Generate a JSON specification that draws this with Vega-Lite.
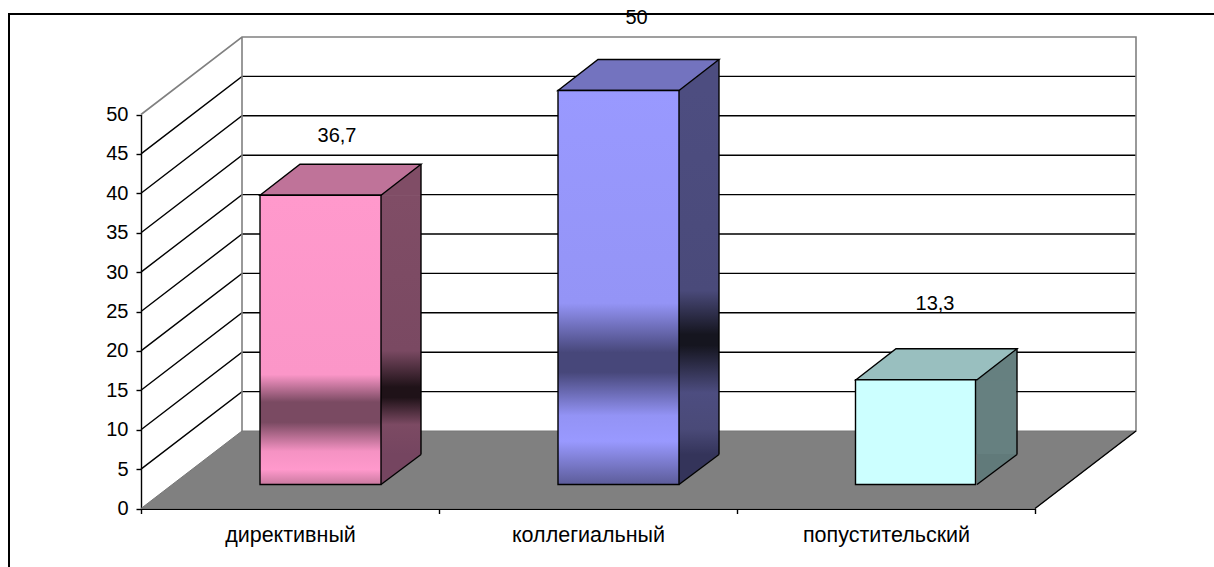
{
  "$schema": "https://vega.github.io/schema/vega-lite/v6.json",
  "autosize": {"type": "none"},
  "padding": 0,
  "width": 1214,
  "height": 567,
  "background": "white",
  "resolve": {"scale": {"fill": "independent"}},
  "config": {
    "view": {"stroke": null},
    "font": "Liberation Sans",
    "locale": {"number": {"decimal": ",", "thousands": " ", "grouping": [3], "currency": ["", ""]}},
    "axis": {
      "grid": false,
      "zindex": 1,
      "domainColor": "black",
      "tickColor": "black",
      "tickWidth": 1.4,
      "tickSize": 5,
      "labelFontSize": 20,
      "labelColor": "black",
      "labelFont": "Liberation Sans"
    },
    "axisX": {"offset": -58.5, "tickBand": "extent", "labelAngle": 0, "domainWidth": 2, "labelPadding": 11, "labelFontSize": 21.5},
    "axisY": {"offset": -141, "domainWidth": 1.4, "labelPadding": 8}
  },
  "datasets": {
    "styles": [
      {"style": "директивный", "value": 36.7},
      {"style": "коллегиальный", "value": 50},
      {"style": "попустительский", "value": 13.3}
    ],
    "ticks": [
      {"tick": 0}, {"tick": 5}, {"tick": 10}, {"tick": 15}, {"tick": 20}, {"tick": 25},
      {"tick": 30}, {"tick": 35}, {"tick": 40}, {"tick": 45}, {"tick": 50}
    ]
  },
  "layer": [
    {
      "data": {"name": "ticks"},
      "transform": [{"filter": "datum.tick > 0 && datum.tick < 50"}],
      "mark": {"type": "point", "shape": "M-149,0L-48,-77.5L846,-77.5", "size": 4, "filled": false, "stroke": "black", "strokeWidth": 1.4, "opacity": 1},
      "encoding": {
        "x": {"datum": "директивный", "type": "nominal", "title": null},
        "y": {
          "field": "tick",
          "type": "quantitative",
          "title": null,
          "scale": {"domain": [0, 50], "range": [508.5, 114.5], "nice": false},
          "axis": {"values": [0, 5, 10, 15, 20, 25, 30, 35, 40, 45, 50]}
        }
      }
    },
    {
      "data": {"name": "ticks"},
      "transform": [{"filter": "datum.tick === 50"}],
      "mark": {"type": "point", "shape": "M-149,0L-48,-77.5L846,-77.5L846,317M-48,-77.5L-48,317", "size": 4, "filled": false, "stroke": "#808080", "strokeWidth": 1.6, "opacity": 1},
      "encoding": {
        "x": {"datum": "директивный", "type": "nominal", "title": null},
        "y": {"field": "tick", "type": "quantitative", "title": null}
      }
    },
    {
      "data": {"name": "ticks"},
      "transform": [{"filter": "datum.tick === 50"}],
      "mark": {"type": "point", "shape": "M-281,452.5L-281,-100.5L924,-100.5", "size": 4, "filled": false, "stroke": "black", "strokeWidth": 2, "opacity": 1},
      "encoding": {
        "x": {"datum": "директивный", "type": "nominal", "title": null},
        "y": {"field": "tick", "type": "quantitative", "title": null}
      }
    },
    {
      "data": {"name": "ticks"},
      "transform": [{"filter": "datum.tick === 0"}],
      "mark": {"type": "point", "shape": "M-149,0L-48,-77.5L846,-77.5L745,0Z", "size": 4, "filled": true, "fill": "#808080", "stroke": "#777777", "strokeWidth": 1, "opacity": 1},
      "encoding": {
        "x": {"datum": "директивный", "type": "nominal", "title": null},
        "y": {"field": "tick", "type": "quantitative", "title": null}
      }
    },
    {
      "data": {"name": "ticks"},
      "transform": [{"filter": "datum.tick === 0"}],
      "mark": {"type": "point", "shape": "M745,0L846,-77.5", "size": 4, "filled": false, "stroke": "black", "strokeWidth": 1.4, "opacity": 1},
      "encoding": {
        "x": {"datum": "директивный", "type": "nominal", "title": null},
        "y": {"field": "tick", "type": "quantitative", "title": null}
      }
    },
    {
      "data": {"name": "styles"},
      "transform": [{"filter": "datum.style === 'директивный'"}],
      "mark": {
        "type": "bar", "width": 44, "xOffset": 109, "yOffset": -24, "y2Offset": -54,
        "fill": {"gradient": "linear", "x1": 0, "y1": 0, "x2": 0, "y2": 1, "stops": [
          {"offset": 0, "color": "#804d66"}, {"offset": 0.6, "color": "#7a4962"},
          {"offset": 0.74, "color": "#1f1218"}, {"offset": 0.78, "color": "#1f1218"}, {"offset": 0.885, "color": "#7c4a63"},
          {"offset": 1, "color": "#754560"}
        ]}
      },
      "encoding": {
        "x": {
          "field": "style",
          "type": "nominal",
          "title": null,
          "scale": {"domain": ["директивный", "коллегиальный", "попустительский"], "range": [141, 1035], "paddingInner": 0, "paddingOuter": 0}
        },
        "y": {"field": "value", "type": "quantitative", "title": null},
        "y2": {"datum": 0}
      }
    },
    {
      "data": {"name": "styles"},
      "transform": [{"filter": "datum.style === 'коллегиальный'"}],
      "mark": {
        "type": "bar", "width": 44, "xOffset": 109, "yOffset": -24, "y2Offset": -54,
        "fill": {"gradient": "linear", "x1": 0, "y1": 0, "x2": 0, "y2": 1, "stops": [
          {"offset": 0, "color": "#4d4d80"}, {"offset": 0.55, "color": "#4a4a7a"},
          {"offset": 0.67, "color": "#15151f"}, {"offset": 0.7, "color": "#15151f"}, {"offset": 0.83, "color": "#4d4d80"},
          {"offset": 0.93, "color": "#4a4a78"}, {"offset": 1, "color": "#34345a"}
        ]}
      },
      "encoding": {
        "x": {"field": "style", "type": "nominal", "title": null},
        "y": {"field": "value", "type": "quantitative", "title": null},
        "y2": {"datum": 0}
      }
    },
    {
      "data": {"name": "styles"},
      "transform": [{"filter": "datum.style === 'попустительский'"}],
      "mark": {"type": "bar", "width": 44, "xOffset": 108.5, "yOffset": -24, "y2Offset": -54, "fill": "#668080"},
      "encoding": {
        "x": {"field": "style", "type": "nominal", "title": null},
        "y": {"field": "value", "type": "quantitative", "title": null},
        "y2": {"datum": 0}
      }
    },
    {
      "data": {"name": "styles"},
      "mark": {"type": "point", "shape": "M60.5,0.5L100.5,-31L100.5,0.5Z", "size": 4, "filled": true, "xOffset": 30.5, "yOffset": -24, "opacity": 1},
      "encoding": {
        "x": {"field": "style", "type": "nominal", "title": null},
        "y": {"field": "value", "type": "quantitative", "title": null},
        "fill": {"field": "style", "type": "nominal", "legend": null, "scale": {"domain": ["директивный", "коллегиальный", "попустительский"], "range": ["#804d66", "#4d4d80", "#668080"]}}
      }
    },
    {
      "data": {"name": "styles"},
      "mark": {"type": "point", "shape": "M60.5,0L60.5,-30.5L100.5,-30.5Z", "size": 4, "filled": true, "xOffset": 30.5, "yOffset": -24, "opacity": 1},
      "encoding": {
        "x": {"field": "style", "type": "nominal", "title": null},
        "y": {"datum": 0, "type": "quantitative", "title": null},
        "fill": {"field": "style", "type": "nominal", "legend": null, "scale": {"domain": ["директивный", "коллегиальный", "попустительский"], "range": ["#754560", "#34345a", "#617a7a"]}}
      }
    },
    {
      "data": {"name": "styles"},
      "mark": {"type": "rule", "xOffset": 131, "yOffset": -55, "y2Offset": -54, "stroke": "black", "strokeWidth": 1.4},
      "encoding": {
        "x": {"field": "style", "type": "nominal", "title": null},
        "y": {"field": "value", "type": "quantitative", "title": null},
        "y2": {"datum": 0}
      }
    },
    {
      "data": {"name": "styles"},
      "mark": {"type": "point", "shape": "M60.5,0L100.5,-30", "size": 4, "filled": false, "stroke": "black", "strokeWidth": 1.4, "xOffset": 30.5, "yOffset": -24, "opacity": 1},
      "encoding": {
        "x": {"field": "style", "type": "nominal", "title": null},
        "y": {"datum": 0, "type": "quantitative", "title": null}
      }
    },
    {
      "data": {"name": "styles"},
      "mark": {"type": "point", "shape": "M-60.5,0L60.5,0L100.5,-31L-20.5,-31Z", "size": 4, "filled": true, "stroke": "black", "strokeWidth": 1.4, "xOffset": 30.5, "yOffset": -24, "opacity": 1},
      "encoding": {
        "x": {"field": "style", "type": "nominal", "title": null},
        "y": {"field": "value", "type": "quantitative", "title": null},
        "fill": {"field": "style", "type": "nominal", "legend": null, "scale": {"domain": ["директивный", "коллегиальный", "попустительский"], "range": ["#bf7399", "#7373bf", "#99bfbf"]}}
      }
    },
    {
      "data": {"name": "styles"},
      "transform": [{"filter": "datum.style === 'директивный'"}],
      "mark": {
        "type": "bar", "width": 121, "xOffset": 30.5, "yOffset": -24, "y2Offset": -24, "stroke": "black", "strokeWidth": 1.4,
        "fill": {"gradient": "linear", "x1": 0, "y1": 0, "x2": 0, "y2": 1, "stops": [
          {"offset": 0, "color": "#ff99cc"}, {"offset": 0.62, "color": "#fb96c8"},
          {"offset": 0.715, "color": "#7a4a62"}, {"offset": 0.785, "color": "#7a4a62"}, {"offset": 0.885, "color": "#f592c3"},
          {"offset": 0.948, "color": "#ff99cc"}, {"offset": 1, "color": "#c9799f"}
        ]}
      },
      "encoding": {
        "x": {"field": "style", "type": "nominal", "title": null},
        "y": {"field": "value", "type": "quantitative", "title": null},
        "y2": {"datum": 0}
      }
    },
    {
      "data": {"name": "styles"},
      "transform": [{"filter": "datum.style === 'коллегиальный'"}],
      "mark": {
        "type": "bar", "width": 121, "xOffset": 30.5, "yOffset": -24, "y2Offset": -24, "stroke": "black", "strokeWidth": 1.4,
        "fill": {"gradient": "linear", "x1": 0, "y1": 0, "x2": 0, "y2": 1, "stops": [
          {"offset": 0, "color": "#9999ff"}, {"offset": 0.54, "color": "#9494f6"},
          {"offset": 0.665, "color": "#47477a"}, {"offset": 0.715, "color": "#47477a"}, {"offset": 0.825, "color": "#9393f5"},
          {"offset": 0.89, "color": "#9999ff"}, {"offset": 1, "color": "#5c5c99"}
        ]}
      },
      "encoding": {
        "x": {"field": "style", "type": "nominal", "title": null},
        "y": {"field": "value", "type": "quantitative", "title": null},
        "y2": {"datum": 0}
      }
    },
    {
      "data": {"name": "styles"},
      "transform": [{"filter": "datum.style === 'попустительский'"}],
      "mark": {"type": "bar", "width": 120, "xOffset": 29.5, "yOffset": -24, "y2Offset": -24, "stroke": "black", "strokeWidth": 1.4, "fill": "#ccffff"},
      "encoding": {
        "x": {"field": "style", "type": "nominal", "title": null},
        "y": {"field": "value", "type": "quantitative", "title": null},
        "y2": {"datum": 0}
      }
    },
    {
      "data": {"name": "styles"},
      "transform": [{"filter": "datum.style === 'директивный'"}],
      "mark": {"type": "text", "fontSize": 20, "font": "Liberation Sans", "color": "black", "xOffset": 47, "yOffset": -83},
      "encoding": {
        "x": {"field": "style", "type": "nominal", "title": null},
        "y": {"field": "value", "type": "quantitative", "title": null},
        "text": {"field": "value", "type": "quantitative", "format": ".1~f"}
      }
    },
    {
      "data": {"name": "styles"},
      "transform": [{"filter": "datum.style === 'коллегиальный'"}],
      "mark": {"type": "text", "fontSize": 20, "font": "Liberation Sans", "color": "black", "xOffset": 48.5, "yOffset": -96.5},
      "encoding": {
        "x": {"field": "style", "type": "nominal", "title": null},
        "y": {"field": "value", "type": "quantitative", "title": null},
        "text": {"field": "value", "type": "quantitative", "format": ".1~f"}
      }
    },
    {
      "data": {"name": "styles"},
      "transform": [{"filter": "datum.style === 'попустительский'"}],
      "mark": {"type": "text", "fontSize": 20, "font": "Liberation Sans", "color": "black", "xOffset": 49, "yOffset": -100},
      "encoding": {
        "x": {"field": "style", "type": "nominal", "title": null},
        "y": {"field": "value", "type": "quantitative", "title": null},
        "text": {"field": "value", "type": "quantitative", "format": ".1~f"}
      }
    }
  ]
}
